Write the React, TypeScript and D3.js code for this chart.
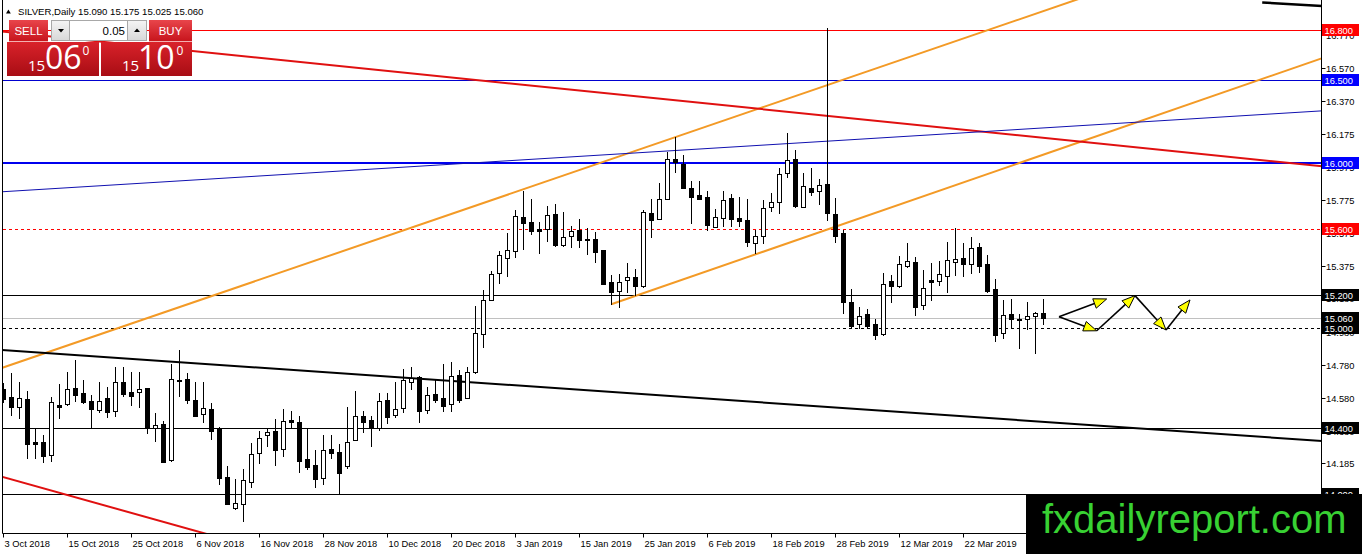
import React from "react";
import * as d3 from "d3";

const W = 1362;
const H = 554;

// ---- OHLC data (daily bars, 3 Oct 2018 .. 2 Apr 2019) ----
const opens = [
  14.631, 14.583, 14.527, 14.573, 14.314, 14.314, 14.237, 14.535, 14.541, 14.639,
  14.609, 14.561, 14.509, 14.579, 14.499, 14.674, 14.615, 14.613, 14.637, 14.398,
  14.422, 14.203, 14.688, 14.694, 14.567, 14.480, 14.513, 14.398, 14.102, 13.913,
  13.937, 14.074, 14.245, 14.354, 14.380, 14.271, 14.446, 14.432, 14.211, 14.173,
  14.094, 14.271, 14.251, 14.171, 14.326, 14.468, 14.446, 14.400, 14.567, 14.476,
  14.517, 14.678, 14.704, 14.507, 14.603, 14.577, 14.541, 14.718, 14.577, 14.734,
  14.964, 15.171, 15.332, 15.422, 15.464, 15.672, 15.640, 15.597, 15.597, 15.690,
  15.501, 15.555, 15.595, 15.539, 15.539, 15.470, 15.277, 15.227, 15.289, 15.312,
  15.257, 15.698, 15.662, 15.780, 16.020, 15.991, 15.845, 15.804, 15.790, 15.613,
  15.668, 15.784, 15.665, 15.653, 15.513, 15.559, 15.730, 15.760, 15.935, 16.022,
  15.734, 15.847, 15.829, 15.871, 15.688, 15.573, 15.157, 15.024, 15.086, 15.026,
  14.963, 15.285, 15.257, 15.378, 15.400, 15.138, 15.291, 15.287, 15.317, 15.402,
  15.426, 15.386, 15.488, 15.388, 15.237, 14.969, 15.084, 15.058, 15.054, 15.076,
  15.090,
];
const highs = [
  14.668, 14.732, 14.674, 14.623, 14.396, 14.356, 14.587, 14.664, 14.734, 14.808,
  14.688, 14.595, 14.674, 14.645, 14.766, 14.764, 14.734, 14.734, 14.640, 14.487,
  14.442, 14.784, 14.869, 14.732, 14.676, 14.676, 14.551, 14.402, 14.171, 14.088,
  14.149, 14.305, 14.382, 14.400, 14.452, 14.511, 14.501, 14.468, 14.396, 14.265,
  14.356, 14.356, 14.299, 14.523, 14.621, 14.501, 14.470, 14.607, 14.611, 14.674,
  14.752, 14.764, 14.712, 14.647, 14.688, 14.784, 14.798, 14.748, 14.768, 15.134,
  15.231, 15.348, 15.466, 15.573, 15.714, 15.829, 15.778, 15.642, 15.738, 15.750,
  15.704, 15.617, 15.658, 15.603, 15.579, 15.470, 15.320, 15.328, 15.396, 15.356,
  15.714, 15.778, 15.879, 16.066, 16.154, 16.046, 15.889, 15.889, 15.830, 15.718,
  15.828, 15.810, 15.790, 15.778, 15.593, 15.774, 15.818, 15.965, 16.176, 16.076,
  15.935, 15.965, 15.899, 16.810, 15.784, 15.593, 15.235, 15.130, 15.114, 15.054,
  15.332, 15.322, 15.436, 15.517, 15.432, 15.352, 15.392, 15.406, 15.523, 15.603,
  15.512, 15.553, 15.517, 15.442, 15.295, 15.171, 15.175, 15.084, 15.161, 15.100,
  15.175,
];
const lows = [
  14.557, 14.477, 14.456, 14.215, 14.215, 14.191, 14.201, 14.460, 14.535, 14.561,
  14.549, 14.396, 14.497, 14.466, 14.468, 14.593, 14.539, 14.527, 14.366, 14.322,
  14.191, 14.201, 14.591, 14.551, 14.470, 14.432, 14.332, 14.058, 13.937, 13.907,
  13.837, 14.044, 14.189, 14.289, 14.175, 14.229, 14.400, 14.134, 14.151, 14.044,
  14.060, 14.215, 13.998, 14.155, 14.326, 14.372, 14.291, 14.386, 14.426, 14.466,
  14.493, 14.631, 14.436, 14.491, 14.557, 14.503, 14.503, 14.557, 14.577, 14.728,
  14.885, 15.171, 15.275, 15.318, 15.432, 15.476, 15.569, 15.456, 15.529, 15.497,
  15.497, 15.493, 15.493, 15.446, 15.402, 15.267, 15.145, 15.131, 15.221, 15.199,
  15.247, 15.553, 15.662, 15.780, 15.945, 15.845, 15.637, 15.778, 15.593, 15.609,
  15.617, 15.617, 15.617, 15.496, 15.452, 15.513, 15.710, 15.698, 15.911, 15.734,
  15.730, 15.804, 15.750, 15.653, 15.523, 15.094, 15.010, 15.000, 15.000, 14.933,
  14.959, 15.161, 15.251, 15.372, 15.080, 15.114, 15.171, 15.261, 15.221, 15.321,
  15.315, 15.332, 15.342, 15.221, 14.923, 14.939, 15.010, 14.883, 14.994, 14.853,
  15.025,
];
const closes = [
  14.573, 14.527, 14.577, 14.303, 14.303, 14.231, 14.555, 14.527, 14.631, 14.599,
  14.553, 14.515, 14.561, 14.497, 14.674, 14.605, 14.589, 14.631, 14.396, 14.414,
  14.195, 14.692, 14.680, 14.567, 14.472, 14.517, 14.382, 14.094, 13.941, 13.943,
  14.082, 14.239, 14.336, 14.372, 14.263, 14.438, 14.436, 14.201, 14.165, 14.088,
  14.263, 14.245, 14.124, 14.311, 14.468, 14.436, 14.396, 14.559, 14.466, 14.513,
  14.688, 14.698, 14.503, 14.597, 14.567, 14.533, 14.712, 14.567, 14.734, 14.974,
  15.169, 15.326, 15.440, 15.470, 15.676, 15.637, 15.589, 15.589, 15.682, 15.503,
  15.549, 15.587, 15.531, 15.531, 15.462, 15.267, 15.221, 15.281, 15.307, 15.257,
  15.700, 15.654, 15.778, 16.020, 16.005, 15.849, 15.794, 15.780, 15.623, 15.670,
  15.772, 15.657, 15.645, 15.519, 15.557, 15.724, 15.760, 15.929, 16.016, 15.738,
  15.859, 15.820, 15.865, 15.694, 15.559, 15.161, 15.016, 15.076, 15.016, 14.959,
  15.267, 15.257, 15.388, 15.404, 15.130, 15.241, 15.281, 15.327, 15.412, 15.418,
  15.390, 15.484, 15.378, 15.225, 14.959, 15.078, 15.054, 15.052, 15.074, 15.090,
  15.060,
];

// ---- axes ----
const xTickLabels = [
  "3 Oct 2018", "15 Oct 2018", "25 Oct 2018", "6 Nov 2018", "16 Nov 2018",
  "28 Nov 2018", "10 Dec 2018", "20 Dec 2018", "3 Jan 2019", "15 Jan 2019",
  "25 Jan 2019", "6 Feb 2019", "18 Feb 2019", "28 Feb 2019", "12 Mar 2019",
  "22 Mar 2019",
];
const xTickBars = [0, 8, 16, 24, 32, 40, 48, 56, 64, 72, 80, 88, 96, 104, 112, 120];
const yTickValues = [
  16.77, 16.57, 16.37, 16.175, 15.975, 15.775, 15.575, 15.375, 15.18, 14.98,
  14.78, 14.58, 14.38, 14.185, 13.985,
];

// ---- horizontal price levels ----
const levelPrices = [16.8, 16.5, 16.0, 15.6, 15.2, 15.06, 15.0, 14.4, 14.0];

// ---- trend lines: [barIndexA, priceA, barIndexB, priceB] ----
const trendLines = [
  [57.125, 15.708, 83, 16.136], // orange channel top
  [76.04, 15.145, 112.125, 15.748], // orange channel bottom (ray)
  [37.125, 16.607, 160.875, 15.997], // red descending
  [87.125, 16.082, 112.125, 16.156], // thin blue
  [-0.04, 14.869, 164.75, 14.32], // black descending
  [-0.04, 14.103, 25, 13.765], // red bottom-left
  [157.4, 16.966, 164.75, 16.945], // black top-right (ray)
];

// ---- projection arrows: [barA, priceA, barB, priceB] ----
const arrows = [
  [132, 15.07, 137.96, 15.177],
  [132, 15.07, 136.71, 14.985],
  [136.71, 14.985, 141.5, 15.197],
  [141.5, 15.197, 145.375, 14.99],
  [145.375, 14.99, 148.375, 15.171],
];

const FONT = "'Liberation Sans', Arial, sans-serif";

const levelStyle = [
  { stroke: "#ff0000", width: 1, dash: undefined, bg: "#ff0000" },
  { stroke: "#0000d0", width: 1, dash: undefined, bg: "#0000ff" },
  { stroke: "#0000ee", width: 2, dash: undefined, bg: "#0000ff" },
  { stroke: "#ff0000", width: 1, dash: "3,3", bg: "#ff0000" },
  { stroke: "#000000", width: 1, dash: undefined, bg: "#000000" },
  { stroke: "#c0c0c0", width: 1, dash: undefined, bg: "#000000" },
  { stroke: "#000000", width: 1, dash: "3,3", bg: "#000000" },
  { stroke: "#000000", width: 1, dash: undefined, bg: "#000000" },
  { stroke: "#000000", width: 1, dash: undefined, bg: "#000000" },
];

const trendStyle = [
  { stroke: "#f39a26", width: 2, ray: false },
  { stroke: "#f39a26", width: 2, ray: true },
  { stroke: "#e01010", width: 2, ray: false },
  { stroke: "#1010b0", width: 1, ray: false },
  { stroke: "#000000", width: 2, ray: false },
  { stroke: "#e01010", width: 2, ray: false },
  { stroke: "#000000", width: 2.5, ray: true },
];

export default function App() {
  const plotL = 2.5;
  const plotR = 1321.5;
  const plotT = 0;
  const plotB = 533.5;

  const x = d3.scaleLinear().domain([0, 130]).range([3, 1043]);
  const y = d3.scaleLinear().domain([14.0, 16.8]).range([494, 30]);

  const px = (v: number) => Math.round(v) + 0.5;

  const lineExt = (t: number[], ray: boolean) => {
    const x1 = x(t[0]);
    const y1 = y(t[1]);
    const x2 = x(t[2]);
    const y2 = y(t[3]);
    const k = (y2 - y1) / (x2 - x1);
    const sx = ray ? x1 : plotL - 5;
    const ex = plotR + 5;
    return { sx, sy: y1 + k * (sx - x1), ex, ey: y1 + k * (ex - x1) };
  };

  const arrowEls = arrows.map((a, i) => {
    const x1 = x(a[0]);
    const y1 = y(a[1]);
    const x2 = x(a[2]);
    const y2 = y(a[3]);
    const dx = x2 - x1;
    const dy = y2 - y1;
    const len = Math.hypot(dx, dy);
    const ux = dx / len;
    const uy = dy / len;
    const hl = 13;
    const hw = 5;
    const bx = x2 - ux * hl;
    const by = y2 - uy * hl;
    const pts = [
      [x2, y2],
      [bx - uy * hw, by + ux * hw],
      [bx + uy * hw, by - ux * hw],
    ]
      .map((p) => p.join(","))
      .join(" ");
    return (
      <g key={"ar" + i}>
        <line x1={x1} y1={y1} x2={bx} y2={by} stroke="#000" strokeWidth={1.6} />
        <polygon points={pts} fill="#ffff00" stroke="#000" strokeWidth={1} strokeLinejoin="miter" />
      </g>
    );
  });

  return (
    <svg
      width={W}
      height={H}
      viewBox={`0 0 ${W} ${H}`}
      style={{ position: "absolute", left: 0, top: 0, background: "#fff", display: "block" }}
      fontFamily={FONT}
    >
      <defs>
        <clipPath id="plot">
          <rect x={plotL} y={plotT} width={plotR - plotL} height={plotB - plotT} />
        </clipPath>
        <linearGradient id="btn" x1="0" y1="0" x2="0" y2="1">
          <stop offset="0" stopColor="#e8454b" />
          <stop offset="1" stopColor="#c8151d" />
        </linearGradient>
        <linearGradient id="big" x1="0" y1="0" x2="0" y2="1">
          <stop offset="0" stopColor="#d9222a" />
          <stop offset="1" stopColor="#a80d14" />
        </linearGradient>
        <linearGradient id="spin" x1="0" y1="0" x2="0" y2="1">
          <stop offset="0" stopColor="#f4f4f4" />
          <stop offset="1" stopColor="#d8d8d8" />
        </linearGradient>
      </defs>

      <rect x={0} y={0} width={W} height={H} fill="#fff" />

      <g clipPath="url(#plot)">
        {levelPrices.map((p, i) => (
          <line
            key={"lv" + i}
            x1={plotL}
            x2={plotR}
            y1={levelStyle[i].width === 2 ? Math.round(y(p)) : px(y(p))}
            y2={levelStyle[i].width === 2 ? Math.round(y(p)) : px(y(p))}
            stroke={levelStyle[i].stroke}
            strokeWidth={levelStyle[i].width}
            strokeDasharray={levelStyle[i].dash}
            shapeRendering="crispEdges"
          />
        ))}
        {trendLines.map((t, i) => {
          const s = lineExt(t, trendStyle[i].ray);
          return (
            <line
              key={"tl" + i}
              x1={s.sx}
              y1={s.sy}
              x2={s.ex}
              y2={s.ey}
              stroke={trendStyle[i].stroke}
              strokeWidth={trendStyle[i].width}
            />
          );
        })}
        {opens.map((o, i) => {
          const c = closes[i];
          const cx = px(x(i));
          const yO = y(o);
          const yC = y(c);
          const top = Math.round(Math.min(yO, yC)) + 0.5;
          const bot = Math.round(Math.max(yO, yC)) + 0.5;
          const bull = c > o;
          return (
            <g key={"c" + i}>
              <line
                x1={cx}
                x2={cx}
                y1={Math.round(y(highs[i]))}
                y2={Math.round(y(lows[i])) + 1}
                stroke="#000"
                strokeWidth={1}
              />
              <rect
                x={cx - 2}
                y={top}
                width={4}
                height={Math.max(bot - top, 0)}
                fill={bull ? "#fff" : "#000"}
                stroke="#000"
                strokeWidth={1}
              />
            </g>
          );
        })}
      </g>

      {arrowEls}

      {/* frame */}
      <line x1={plotL} x2={plotL} y1={0} y2={plotB} stroke="#000" />
      <line x1={plotL} x2={plotR} y1={plotB} y2={plotB} stroke="#000" />
      <line x1={plotR} x2={plotR} y1={0} y2={plotB} stroke="#000" />

      {/* x axis */}
      {xTickBars.map((b, i) => {
        const tx = px(x(b) - 0.5);
        return (
          <g key={"xt" + i}>
            <line x1={tx} x2={tx} y1={plotB} y2={plotB + 4} stroke="#000" />
            <text x={tx + 1} y={547} fontSize={9.3} fill="#000">
              {xTickLabels[i]}
            </text>
          </g>
        );
      })}

      {/* y axis */}
      {yTickValues.map((v, i) => {
        const ty = px(y(v));
        return (
          <g key={"yt" + i}>
            <line x1={plotR} x2={plotR + 4} y1={ty} y2={ty} stroke="#000" />
            <text x={1326} y={ty + 3.5} fontSize={9.3} fill="#000">
              {v.toFixed(3)}
            </text>
          </g>
        );
      })}
      {levelPrices.map((p, i) => {
        const ty = Math.round(y(p));
        return (
          <g key={"ll" + i}>
            <rect x={1322} y={ty - 6} width={37} height={12} fill={levelStyle[i].bg} />
            <text x={1324.5} y={ty + 4} fontSize={9.3} fill="#fff">
              {p.toFixed(3)}
            </text>
          </g>
        );
      })}

      {/* watermark */}
      <rect x={1026} y={494} width={W - 1026} height={H - 494} fill="#000" />
      <text x={1042} y={533} fontSize={40} fill="#38d133" fontFamily={FONT}>
        fxdailyreport.com
      </text>

      {/* header / one-click trading panel */}
      <polygon points="6,13.5 10.8,13.5 8.4,9.5" fill="#000" />
      <text x={18} y={14.5} fontSize={9.6} fill="#000">
        {"SILVER,Daily  15.090 15.175 15.025 15.060"}
      </text>

      <rect x={9} y={20} width={39} height={21} fill="url(#btn)" />
      <text x={28.5} y={35} fontSize={11.5} fill="#fff" textAnchor="middle">
        SELL
      </text>
      <rect x={51.5} y={20.5} width={18} height={20} fill="url(#spin)" stroke="#a8a8a8" />
      <polygon points="58,29 64,29 61,32.5" fill="#000" />
      <rect x={69.5} y={20.5} width={58} height={20} fill="#fff" stroke="#a8a8a8" />
      <text x={125} y={35} fontSize={11.5} fill="#000" textAnchor="end">
        0.05
      </text>
      <rect x={127.5} y={20.5} width={19} height={20} fill="url(#spin)" stroke="#a8a8a8" />
      <polygon points="134,32 140,32 137,28.5" fill="#000" />
      <rect x={149} y={20} width={43} height={21} fill="url(#btn)" />
      <text x={170.5} y={35} fontSize={11.5} fill="#fff" textAnchor="middle">
        BUY
      </text>
      <line x1={9} x2={48} y1={41.5} y2={41.5} stroke="#f3b0b0" strokeWidth={1} />
      <line x1={149} x2={192} y1={41.5} y2={41.5} stroke="#f3b0b0" strokeWidth={1} />

      <rect x={7} y={42} width={92} height={34} fill="url(#big)" />
      <rect x={101} y={42} width={91} height={34} fill="url(#big)" />
      <text x={28} y={71} fontSize={15} fill="#fff" fontFamily="'Open Sans', sans-serif">
        15
      </text>
      <text x={45} y={69} fontSize={32} fill="#fff" fontFamily="'Open Sans', sans-serif">
        06
      </text>
      <text x={82.5} y={55} fontSize={12} fill="#fff" fontFamily="'Open Sans', sans-serif">
        0
      </text>
      <text x={122} y={71} fontSize={15} fill="#fff" fontFamily="'Open Sans', sans-serif">
        15
      </text>
      <text x={138} y={69} fontSize={32} fill="#fff" fontFamily="'Open Sans', sans-serif">
        10
      </text>
      <text x={176.5} y={55} fontSize={12} fill="#fff" fontFamily="'Open Sans', sans-serif">
        0
      </text>
    </svg>
  );
}
